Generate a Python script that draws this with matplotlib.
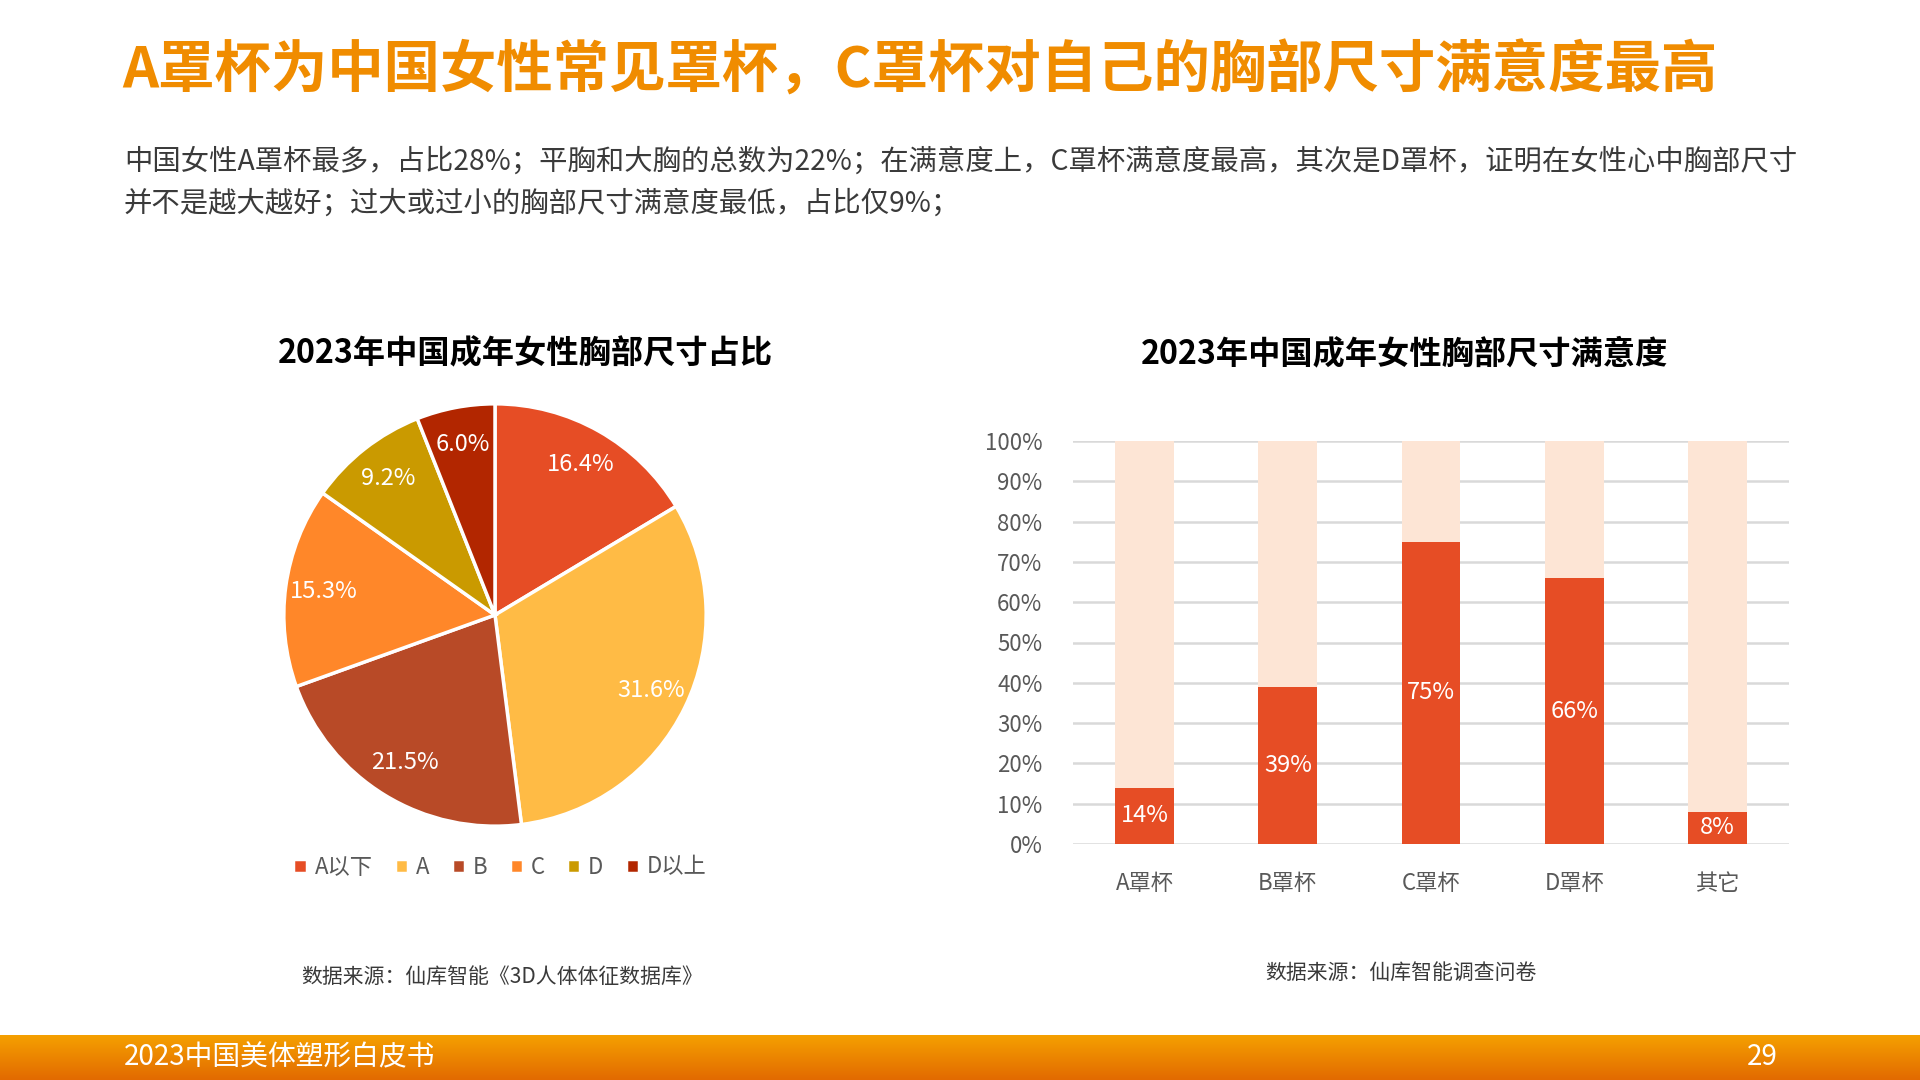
import matplotlib
matplotlib.use("Agg")
import matplotlib.pyplot as plt
import numpy as np
from matplotlib.colors import LinearSegmentedColormap

plt.rcParams['font.family'] = ['Noto Sans CJK SC', 'DejaVu Sans']

# ---- data ----
title = "A罩杯为中国女性常见罩杯，C罩杯对自己的胸部尺寸满意度最高"
subtitle_1 = "中国女性A罩杯最多，占比28%；平胸和大胸的总数为22%；在满意度上，C罩杯满意度最高，其次是D罩杯，证明在女性心中胸部尺寸"
subtitle_2 = "并不是越大越好；过大或过小的胸部尺寸满意度最低，占比仅9%；"

pie_title = "2023年中国成年女性胸部尺寸占比"
pie_labels = ["A以下", "A", "B", "C", "D", "D以上"]
pie_values = [16.4, 31.6, 21.5, 15.3, 9.2, 6.0]
pie_colors = ["#E64D25", "#FFBB45", "#B84A27", "#FF8729", "#CA9A00", "#B22600"]
pie_source = "数据来源：仙库智能《3D人体体征数据库》"

bar_title = "2023年中国成年女性胸部尺寸满意度"
bar_categories = ["A罩杯", "B罩杯", "C罩杯", "D罩杯", "其它"]
bar_values = [14, 39, 75, 66, 8]
bar_total = [100, 100, 100, 100, 100]
bar_ticks = [0, 10, 20, 30, 40, 50, 60, 70, 80, 90, 100]
bar_source = "数据来源：仙库智能调查问卷"

footer_text = "2023中国美体塑形白皮书"
page_no = "29"

# ---- figure ----
W, H = 1920, 1080
fig = plt.figure(figsize=(19.2, 10.8), dpi=100)
fig.patch.set_facecolor("white")

def fx(x):
    return x / W

def fy(y):
    return 1 - y / H

# title and subtitle
fig.text(fx(122), fy(71), title, fontsize=40.6, fontweight="bold", color="#F08C00",
         ha="left", va="center")
fig.text(fx(124), fy(162), subtitle_1, fontsize=20.4, color="#3A3A3A", ha="left", va="center",
         fontweight="light")
fig.text(fx(124), fy(204), subtitle_2, fontsize=20.4, color="#3A3A3A", ha="left", va="center",
         fontweight="light")

# ---- pie ----
cx, cy, r = 495, 615, 208
ax_pie = fig.add_axes([fx(cx - r), fy(cy + r), 2 * r / W, 2 * r / H])
wedges, texts, autotexts = ax_pie.pie(
    pie_values, colors=pie_colors, startangle=90, counterclock=False,
    autopct=lambda p: f"{p:.1f}%", pctdistance=0.82,
    wedgeprops=dict(edgecolor="white", linewidth=2.5),
    textprops=dict(color="white", fontsize=17, fontweight="light"))
ax_pie.set_xlim(-0.985, 0.985)
ax_pie.set_ylim(-0.985, 0.985)
ax_pie.set_aspect("equal")
ax_pie.axis("off")

fig.text(fx(525), fy(354), pie_title, fontsize=23.2, fontweight="bold", color="black",
         ha="center", va="center")

leg = fig.legend(wedges, pie_labels, loc="center", bbox_to_anchor=(fx(500), fy(867)),
                 ncol=6, frameon=False, fontsize=16, handlelength=0.6, handleheight=0.6,
                 handletextpad=0.35, columnspacing=1.0, labelcolor="#595959")
for t in leg.get_texts():
    t.set_fontweight("light")

fig.text(fx(502), fy(977), pie_source, fontsize=15, color="#3A3A3A", ha="center", va="center",
         fontweight="light")

# ---- bar ----
ax_bar = fig.add_axes([fx(1073), fy(844), (1789 - 1073) / W, (844 - 441) / H])
x = np.arange(len(bar_categories))
ax_bar.bar(x, bar_total, width=0.41, color="#FDE5D5", zorder=2)
bars = ax_bar.bar(x, bar_values, width=0.41, color="#E64D25", zorder=3)
for xi, v in zip(x, bar_values):
    ax_bar.text(xi, v / 2, f"{v}%", ha="center", va="center", color="white",
                fontsize=17, fontweight="light", zorder=4)
ax_bar.set_xlim(-0.5, 4.5)
ax_bar.set_ylim(0, 100)
ax_bar.set_yticks(bar_ticks)
ax_bar.set_yticklabels([f"{t}%" for t in bar_ticks], color="#595959", fontsize=16,
                       fontweight="light")
ax_bar.set_xticks(x)
ax_bar.set_xticklabels(bar_categories, color="#595959", fontsize=16, fontweight="light")
ax_bar.tick_params(axis="both", length=0)
ax_bar.tick_params(axis="y", pad=22)
ax_bar.tick_params(axis="x", pad=20)
ax_bar.grid(axis="y", color="#D9D9D9", linewidth=1.8, zorder=1)
for s in ax_bar.spines.values():
    s.set_visible(False)
ax_bar.set_axisbelow(True)

fig.text(fx(1405), fy(354), bar_title, fontsize=23.2, fontweight="bold", color="black",
         ha="center", va="center")
fig.text(fx(1401), fy(973), bar_source, fontsize=15, color="#3A3A3A", ha="center", va="center",
         fontweight="light")

# ---- footer ----
ax_f = fig.add_axes([0, 0, 1, 45 / H])
cmap = LinearSegmentedColormap.from_list("ft", ["#F5A000", "#E26A00"])
grad = np.linspace(0, 1, 64).reshape(-1, 1)
ax_f.imshow(grad, aspect="auto", cmap=cmap, extent=[0, 1, 0, 1], origin="upper")
ax_f.axis("off")
fig.text(fx(124), fy(1057), footer_text, fontsize=20, color="white", ha="left", va="center",
         fontweight="light")
fig.text(fx(1778), fy(1057), page_no, fontsize=20, color="white", ha="right", va="center",
         fontweight="light")

fig.savefig("out.png", dpi=100, facecolor="white")
